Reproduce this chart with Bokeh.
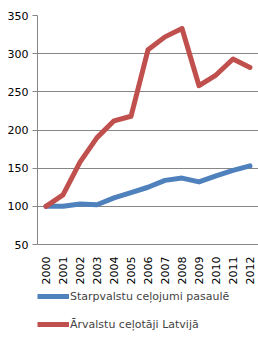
import math
from bokeh.plotting import figure
from bokeh.layouts import column
from bokeh.models import (ColumnDataSource, FactorRange, Range1d, FixedTicker, LinearAxis,
                          CategoricalAxis, Legend, LegendItem)
from bokeh.embed import file_html
from bokeh.resources import INLINE

years = ["2000", "2001", "2002", "2003", "2004", "2005", "2006",
         "2007", "2008", "2009", "2010", "2011", "2012"]
world_trips = [100, 100, 103, 102, 111, 118, 125, 134, 137, 132, 140, 147, 153]
latvia_visitors = [100, 115, 158, 190, 212, 218, 305, 322, 333, 258, 272, 293, 282]
series_names = ["Starpvalstu ceļojumi pasaulē", "Ārvalstu ceļotāji Latvijā"]
y_ticks = [50, 100, 150, 200, 250, 300, 350]

FONT = "DejaVu Sans"
GRAY = "#868686"
BLUE = "#4F81BD"
RED = "#C0504D"

src = ColumnDataSource(dict(year=years, world=world_trips, lv=latvia_visitors))

# ---- main chart ----
p = figure(frame_width=221, frame_height=229,
           x_range=FactorRange(*years, range_padding=0),
           y_range=Range1d(50, 350), output_backend="svg", toolbar_location=None,
           x_axis_location=None, y_axis_location=None,
           min_border_left=37, min_border_right=0, min_border_top=15, min_border_bottom=41)
p.outline_line_color = None
p.background_fill_color = "white"
p.border_fill_color = "white"

yax = LinearAxis(ticker=FixedTicker(ticks=y_ticks))
yax.axis_line_color = GRAY
yax.major_tick_line_color = GRAY
yax.major_tick_in = 0
yax.major_tick_out = 5
yax.minor_tick_line_color = None
yax.major_label_text_font = FONT
yax.major_label_text_font_size = "11px"
yax.major_label_text_color = "black"
yax.major_label_standoff = 4
p.add_layout(yax, "left")

xax = CategoricalAxis()
xax.axis_line_color = GRAY
xax.major_tick_line_color = None
xax.minor_tick_line_color = None
xax.major_label_orientation = math.pi / 2
xax.major_label_text_font = FONT
xax.major_label_text_font_size = "11px"
xax.major_label_text_color = "black"
xax.major_label_standoff = 6
p.add_layout(xax, "below")

p.xgrid.visible = False
p.ygrid.grid_line_color = GRAY
p.ygrid.ticker = FixedTicker(ticks=y_ticks)

p.line("year", "world", source=src, line_color=BLUE, line_width=5, line_join="round", line_cap="round")
p.line("year", "lv", source=src, line_color=RED, line_width=5, line_join="round", line_cap="round")

# ---- legend strip (same series, drawn outside its visible range; only the legend shows) ----
lg = figure(width=258, height=58, x_range=FactorRange(*years), y_range=Range1d(0, 1),
            output_backend="svg", toolbar_location=None,
            x_axis_location=None, y_axis_location=None,
            min_border_left=0, min_border_right=0, min_border_top=0, min_border_bottom=0)
lg.outline_line_color = None
lg.xgrid.visible = False
lg.ygrid.visible = False
lg.background_fill_color = "white"
lg.border_fill_color = "white"
l1 = lg.line("year", "world", source=src, line_color=BLUE, line_width=5)
l2 = lg.line("year", "lv", source=src, line_color=RED, line_width=5)

legend = Legend(items=[LegendItem(label=series_names[0], renderers=[l1]),
                       LegendItem(label=series_names[1], renderers=[l2])],
                orientation="vertical", location=(0, 11))
legend.border_line_color = None
legend.background_fill_alpha = 0
legend.label_text_font = FONT
legend.label_text_font_size = "11px"
legend.glyph_width = 32
legend.label_standoff = 1
legend.spacing = 8
legend.margin = 0
legend.padding = 0
legend.label_height = 18
lg.add_layout(legend)

layout = column(p, lg, spacing=0)
open("out.html", "w").write(file_html(layout, INLINE))
